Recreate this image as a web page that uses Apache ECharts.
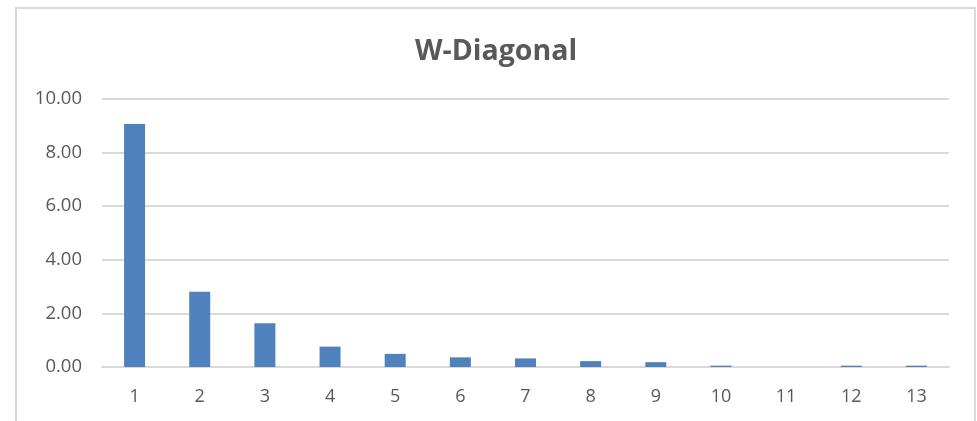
<!DOCTYPE html>
<html>
<head>
<meta charset="utf-8">
<style>
  html, body { margin: 0; padding: 0; background: #ffffff; }
  #chart { width: 977px; height: 421px; }
</style>
<script src="https://cdn.jsdelivr.net/npm/echarts@6/dist/echarts.min.js"></script>
</head>
<body>
<div id="chart"></div>
<script>
// Index of each diagonal entry
const categories = ['1', '2', '3', '4', '5', '6', '7', '8', '9', '10', '11', '12', '13'];
// Diagonal weights
const weights = [9.07, 2.81, 1.63, 0.76, 0.49, 0.36, 0.32, 0.22, 0.18, 0.05, 0, 0.05, 0.05];
// Value axis ticks
const yTicks = [0, 2, 4, 6, 8, 10];

const textColor = '#595959';
const lineColor = '#d9d9d9';
const fontFamily = '"Open Sans", "Noto Sans", sans-serif';

const chart = echarts.init(document.getElementById('chart'), null, { renderer: 'canvas' });

chart.setOption({
  backgroundColor: '#ffffff',
  animation: false,
  graphic: [{
    type: 'rect',
    silent: true,
    shape: { x: 16, y: 8, width: 959, height: 460 },
    style: { fill: 'none', stroke: lineColor, lineWidth: 2 }
  }],
  title: {
    text: 'W-Diagonal',
    left: 410,
    top: 32,
    textStyle: {
      fontFamily: fontFamily,
      fontSize: 28.5,
      fontWeight: 'bold',
      color: textColor
    }
  },
  grid: { left: 102, right: 28, top: 99, bottom: 54 },
  xAxis: {
    type: 'category',
    data: categories,
    axisLine: { lineStyle: { color: lineColor, width: 2 } },
    axisTick: { show: false },
    axisLabel: {
      color: textColor,
      fontFamily: fontFamily,
      fontSize: 18,
      margin: 21
    }
  },
  yAxis: {
    type: 'value',
    min: yTicks[0],
    max: yTicks[yTicks.length - 1],
    interval: yTicks[1] - yTicks[0],
    axisLine: { show: false },
    axisTick: { show: false },
    splitLine: { lineStyle: { color: lineColor, width: 2 } },
    axisLabel: {
      color: textColor,
      fontFamily: fontFamily,
      fontSize: 18.5,
      margin: 20,
      formatter: v => v.toFixed(2)
    }
  },
  series: [{
    type: 'bar',
    data: weights,
    barWidth: 21,
    itemStyle: { color: '#4f81bd' }
  }]
});
</script>
</body>
</html>
